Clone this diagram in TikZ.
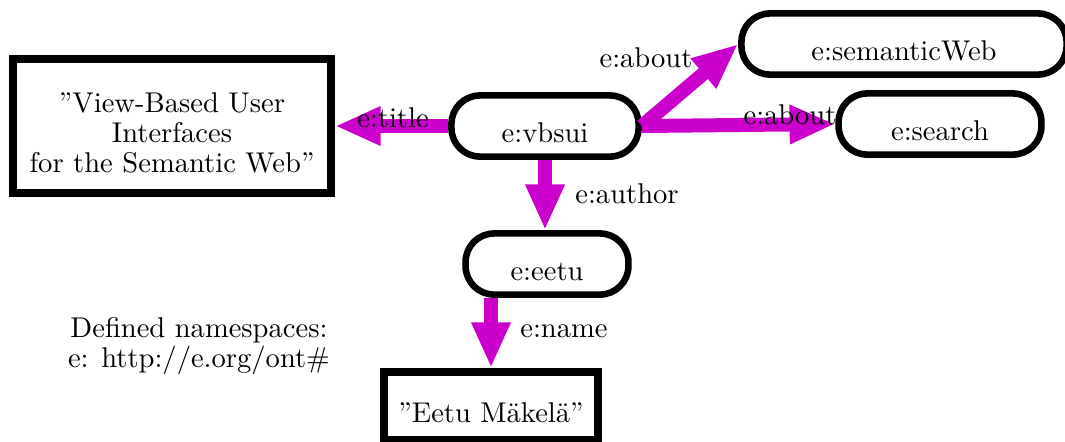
\documentclass[tikz,border=0pt]{standalone}
\usepackage{fontspec}
\usetikzlibrary{arrows.meta}
\definecolor{mag}{HTML}{CC00CC}
\begin{document}
\begin{tikzpicture}[x=0.35pt,y=-0.35pt,
  rbox/.style={draw, line width=2.3pt, rounded corners=10pt, minimum height=21.4pt,
    text height=11.2pt, text depth=0pt, inner sep=0pt},
  sbox/.style={draw, line width=2.8pt, inner sep=0pt},
  arr/.style={draw=mag, line width=4.9pt, -{Triangle[length=16pt,width=12.7pt]}},
  lbl/.style={anchor=base, inner sep=0pt}]
\useasboundingbox (0,0) rectangle (1065,441);
% nodes
\node[rbox, minimum width=65.5pt] (vbsui) at (545,126) {e:vbsui};
\node[rbox, minimum width=113.8pt] (sw) at (904,44) {e:semanticWeb};
\node[rbox, minimum width=71pt] (search) at (940,124) {e:search};
\node[rbox, minimum width=57pt] (eetu) at (547,264) {e:eetu};
\node[sbox, minimum width=111.3pt, minimum height=46.9pt] (title) at (172,126) {};
\node[align=center, font={\fontsize{10}{10.5}\selectfont}, inner sep=0pt] (titletxt) at (172,133)
  {''View-Based User\\Interfaces\\for the Semantic Web''};
\node[sbox, minimum width=74.9pt, minimum height=23.8pt, text height=11.2pt, text depth=0pt] (emak) at (491,406) {''Eetu Mäkelä''};
\node[align=center, anchor=north, font={\fontsize{10}{10.5}\selectfont}, inner sep=0pt] (ns) at (199,317)
  {Defined namespaces:\\e: http://e.org/ont\#};
% connectors
\draw[arr] (vbsui.west) -- (title.east);
\draw[arr] (vbsui.east) -- (sw.west);
\draw[arr] (vbsui.east) -- (search.west);
\draw[arr] (vbsui.south) -- (vbsui.south |- eetu.north);
\draw[arr] (eetu.south -| emak.north) -- (emak.north);
% labels
\node[lbl] (ltitle) at (393,127) {e:title};
\node[lbl] (labout1) at (646,67) {e:about};
\node[lbl] (labout2) at (790,124) {e:about};
\node[lbl] (lauthor) at (627,203) {e:author};
\node[lbl] (lname) at (564,337) {e:name};
\end{tikzpicture}
\end{document}
